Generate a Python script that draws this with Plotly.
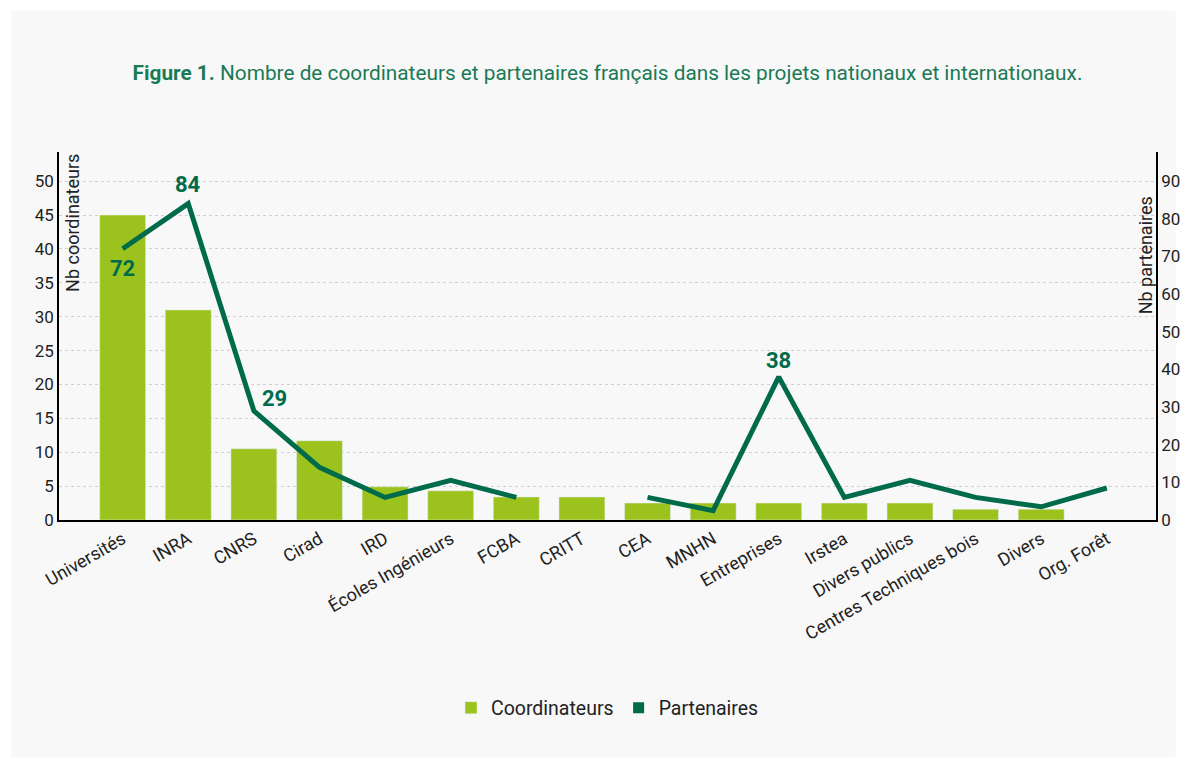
import plotly.graph_objects as go

categories = ["Universités", "INRA", "CNRS", "Cirad", "IRD", "Écoles Ingénieurs", "FCBA", "CRITT",
              "CEA", "MNHN", "Entreprises", "Irstea", "Divers publics", "Centres Techniques bois",
              "Divers", "Org. Forêt"]
coordinateurs = [45, 31, 10.5, 11.7, 4.9, 4.3, 3.4, 3.4, 2.5, 2.5, 2.5, 2.5, 2.5, 1.6, 1.6, None]
partenaires = [72, 84, 29, 14, 6, 10.5, 6, None, 6, 2.5, 38, 6, 10.5, 6, 3.5, 8.5]
labelled = {"Universités": (0, -20), "INRA": (0, 19), "CNRS": (21, 12), "Entreprises": (0, 16)}

BAR = "#9cc31d"
LINE = "#006b4b"
TXT = "#222222"
FONT = "Roboto"

fig = go.Figure()
fig.add_trace(go.Bar(x=categories, y=coordinateurs, name="Coordinateurs", marker_color=BAR,
                     width=0.7, yaxis="y"))
fig.add_trace(go.Scatter(x=categories, y=partenaires, name="Partenaires", mode="lines",
                         line=dict(color=LINE, width=5), connectgaps=False, yaxis="y2",
                         showlegend=False))
fig.add_trace(go.Scatter(x=[None], y=[None], name="Partenaires", mode="markers",
                         marker=dict(symbol="square", size=11, color=LINE), yaxis="y2"))

for cat, (dx, dy) in labelled.items():
    i = categories.index(cat)
    fig.add_annotation(x=cat, y=partenaires[i], xref="x", yref="y2", text=f"{partenaires[i]:g}",
                       showarrow=False, xshift=dx, yshift=dy,
                       font=dict(family=FONT, size=22, color=LINE, weight="bold"))

fig.add_annotation(x=0.0118, y=1, xref="paper", yref="paper", text="Nb coordinateurs",
                   textangle=-90, showarrow=False, xanchor="center", yanchor="top",
                   font=dict(family=FONT, size=18, color=TXT))
fig.add_annotation(x=0.99, y=0.885, xref="paper", yref="paper", text="Nb partenaires",
                   textangle=-90, showarrow=False, xanchor="center", yanchor="top",
                   font=dict(family=FONT, size=18, color=TXT))

fig.add_shape(type="rect", xref="paper", yref="paper", x0=-0.0436, x1=1.018, y0=-0.644, y1=1.383,
              fillcolor="#f8f8f8", line_width=0, layer="below")

fig.update_layout(
    width=1184, height=758,
    margin=dict(l=51, r=32, t=144, b=246),
    paper_bgcolor="white", plot_bgcolor="rgba(0,0,0,0)",
    font=dict(family=FONT, size=17, color=TXT),
    title=dict(text="<b>Figure 1.</b> Nombre de coordinateurs et partenaires français dans les projets nationaux et internationaux.",
               x=0.5, xref="paper", xanchor="center", y=1 - 65 / 758, yanchor="middle",
               font=dict(family=FONT, size=20.8, color="#1a7a55")),
    xaxis=dict(range=[-0.97, 15.75], tickangle=-30, showline=True, linecolor="black", linewidth=1.5,
               showgrid=False, ticks="", tickfont=dict(size=18, color=TXT)),
    yaxis=dict(range=[0, 54.3], tickvals=list(range(0, 51, 5)), showline=True, linecolor="black",
               linewidth=1.5, showgrid=True, gridcolor="#d0d0d0", griddash="dot", gridwidth=1,
               zeroline=False, ticks="", tickfont=dict(size=17, color=TXT)),
    yaxis2=dict(range=[0, 97.7], tickvals=list(range(0, 91, 10)), overlaying="y", side="right",
                showline=True, linecolor="black", linewidth=1.5, showgrid=False, zeroline=False,
                ticks="", tickfont=dict(size=17, color=TXT)),
    legend=dict(orientation="h", x=0.5, xanchor="center", y=-0.511, yanchor="middle",
                font=dict(family=FONT, size=19.5, color=TXT), bgcolor="rgba(0,0,0,0)"),
    bargap=0.3,
)

fig.write_html("out.html")
